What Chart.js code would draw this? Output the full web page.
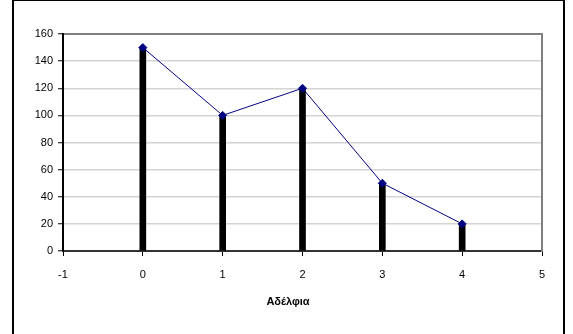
<!DOCTYPE html>
<html>
<head>
<meta charset="utf-8">
<script src="https://cdn.jsdelivr.net/npm/chart.js@4"></script>
<style>
  html, body { margin:0; padding:0; background:#fff; width:573px; height:334px; overflow:hidden; }
  #frame { position:absolute; left:12px; top:0; width:553px; height:400px; box-sizing:border-box;
           border-left:2px solid #000; border-right:2px solid #000; border-top:1px solid #000; }
  #wrap { position:absolute; left:0; top:0; width:573px; height:334px; }
  #xtitle { position:absolute; left:238px; top:295px; width:100px; text-align:center;
            font:bold 11px Arial, "Liberation Sans", sans-serif; color:#000; }
</style>
</head>
<body>
<div id="frame"></div>
<div id="wrap"><canvas id="c" width="573" height="334"></canvas></div>
<div id="xtitle">Αδέλφια</div>
<script>
const siblings = [0, 1, 2, 3, 4];
const counts = [150, 100, 120, 50, 20];
const xTitle = 'Αδέλφια';
document.getElementById('xtitle').textContent = xTitle;

const pts = siblings.map((x, i) => ({ x: x, y: counts[i] }));
const font = { family: 'Arial, "Liberation Sans", sans-serif', size: 11 };

new Chart(document.getElementById('c'), {
  type: 'bar',
  data: {
    datasets: [
      {
        type: 'line',
        data: pts,
        borderColor: '#000080',
        borderWidth: 1,
        pointStyle: 'rectRot',
        pointRadius: 4,
        pointBackgroundColor: '#000080',
        pointBorderColor: '#000080',
        pointBorderWidth: 1,
        fill: false,
        order: 0
      },
      {
        type: 'bar',
        data: pts,
        backgroundColor: '#000',
        barThickness: 6,
        order: 1
      }
    ]
  },
  options: {
    responsive: false,
    animation: false,
    events: [],
    layout: { padding: { left: 0, top: 34, right: 31, bottom: 0 } },
    plugins: { legend: { display: false }, tooltip: { enabled: false }, title: { display: false } },
    scales: {
      x: {
        type: 'linear', position: 'bottom', min: -1, max: 5, offset: false,
        ticks: { stepSize: 1, color: '#000', font: font, padding: 12, maxRotation: 0 },
        grid: { offset: false, drawOnChartArea: false, drawTicks: true, tickLength: 5, tickColor: '#000', tickWidth: 1 },
        border: { display: true, color: '#333', width: 2 },
        afterFit: s => { s.height = 83; }
      },
      x2: {
        type: 'linear', position: 'top', min: -1, max: 5, offset: false,
        ticks: { display: false },
        grid: { display: false, offset: false },
        border: { display: true, color: '#808080', width: 2 },
        afterFit: s => { s.height = 0; }
      },
      y: {
        type: 'linear', position: 'left', min: 0, max: 160,
        ticks: { stepSize: 20, color: '#000', font: font, padding: 5 },
        grid: {
          drawTicks: true, tickLength: 5, tickColor: '#000', tickWidth: 1, tickBorderDash: [],
          color: ctx => (ctx.tick && (ctx.tick.value === 0 || ctx.tick.value === 160)) ? 'rgba(0,0,0,0)' : '#d4d4d4',
          lineWidth: 1.5, borderDash: [7, 5]
        },
        border: { display: true, color: '#000', width: 2 },
        afterFit: s => { s.width = 63; }
      },
      y2: {
        type: 'linear', position: 'right', min: 0, max: 160,
        ticks: { display: false },
        grid: { display: false },
        border: { display: true, color: '#808080', width: 2 },
        afterFit: s => { s.width = 0; }
      }
    }
  }
});
</script>
</body>
</html>
